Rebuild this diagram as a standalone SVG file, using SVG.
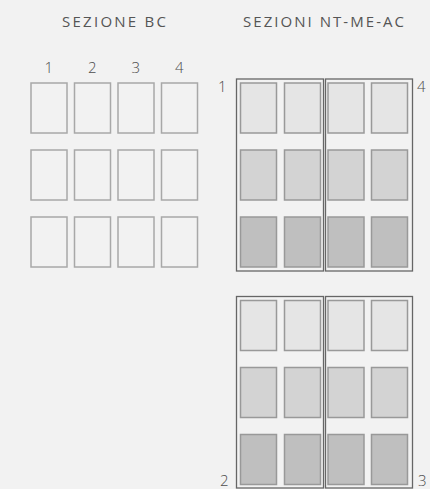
<svg xmlns="http://www.w3.org/2000/svg" width="430" height="489" viewBox="0 0 430 489">
<style>
text{font-family:"Open Sans","Liberation Sans",sans-serif;font-weight:300;fill:#4d4d4d;font-size:15px}
.t{text-anchor:middle}
.h{font-weight:400;font-size:15px;fill:#555}
.bc{fill:#f2f2f2;stroke:#a8a8a8;stroke-width:1.5}
.in{stroke:#999;stroke-width:1.5}
.r1{fill:#e5e5e5}.r2{fill:#d3d3d3}.r3{fill:#bfbfbf}
.out{fill:none;stroke:#666;stroke-width:1.3}
</style>
<rect width="430" height="489" fill="#f2f2f2"/>
<g id="titles">
<text class="t h" x="114" y="27" textLength="104" lengthAdjust="spacing">SEZIONE BC</text>
<text class="t h" x="323.5" y="27" textLength="161" lengthAdjust="spacing">SEZIONI NT-ME-AC</text>
</g>
<g id="bc-labels">
<text class="t" x="48.7" y="72.5">1</text>
<text class="t" x="92.3" y="72.5">2</text>
<text class="t" x="135.7" y="72.5">3</text>
<text class="t" x="179.3" y="72.5">4</text>
</g>
<g id="sezione-bc">
<rect class="bc" x="31" y="83" width="36" height="50"/>
<rect class="bc" x="74.5" y="83" width="36" height="50"/>
<rect class="bc" x="118" y="83" width="36" height="50"/>
<rect class="bc" x="161.5" y="83" width="36" height="50"/>
<rect class="bc" x="31" y="150" width="36" height="50"/>
<rect class="bc" x="74.5" y="150" width="36" height="50"/>
<rect class="bc" x="118" y="150" width="36" height="50"/>
<rect class="bc" x="161.5" y="150" width="36" height="50"/>
<rect class="bc" x="31" y="217" width="36" height="50"/>
<rect class="bc" x="74.5" y="217" width="36" height="50"/>
<rect class="bc" x="118" y="217" width="36" height="50"/>
<rect class="bc" x="161.5" y="217" width="36" height="50"/>
</g>
<g id="sezione-1">
<rect class="in r1" x="240.5" y="83" width="36" height="50"/>
<rect class="in r1" x="284.5" y="83" width="36" height="50"/>
<rect class="in r2" x="240.5" y="150" width="36" height="50"/>
<rect class="in r2" x="284.5" y="150" width="36" height="50"/>
<rect class="in r3" x="240.5" y="217" width="36" height="50"/>
<rect class="in r3" x="284.5" y="217" width="36" height="50"/>
<rect class="out" x="236.5" y="79" width="87" height="192"/>
<text x="218" y="91.5">1</text>
</g>
<g id="sezione-4">
<rect class="in r1" x="328" y="83" width="36" height="50"/>
<rect class="in r1" x="371.5" y="83" width="36" height="50"/>
<rect class="in r2" x="328" y="150" width="36" height="50"/>
<rect class="in r2" x="371.5" y="150" width="36" height="50"/>
<rect class="in r3" x="328" y="217" width="36" height="50"/>
<rect class="in r3" x="371.5" y="217" width="36" height="50"/>
<rect class="out" x="325.5" y="79" width="87" height="192"/>
<text x="417" y="91.5">4</text>
</g>
<g id="sezione-2">
<rect class="in r1" x="240.5" y="300.5" width="36" height="50"/>
<rect class="in r1" x="284.5" y="300.5" width="36" height="50"/>
<rect class="in r2" x="240.5" y="367.5" width="36" height="50"/>
<rect class="in r2" x="284.5" y="367.5" width="36" height="50"/>
<rect class="in r3" x="240.5" y="434.5" width="36" height="50"/>
<rect class="in r3" x="284.5" y="434.5" width="36" height="50"/>
<rect class="out" x="236.5" y="296.5" width="87" height="191.5"/>
<text x="220" y="486">2</text>
</g>
<g id="sezione-3">
<rect class="in r1" x="328" y="300.5" width="36" height="50"/>
<rect class="in r1" x="371.5" y="300.5" width="36" height="50"/>
<rect class="in r2" x="328" y="367.5" width="36" height="50"/>
<rect class="in r2" x="371.5" y="367.5" width="36" height="50"/>
<rect class="in r3" x="328" y="434.5" width="36" height="50"/>
<rect class="in r3" x="371.5" y="434.5" width="36" height="50"/>
<rect class="out" x="325.5" y="296.5" width="87" height="191.5"/>
<text x="418" y="486">3</text>
</g>
</svg>
